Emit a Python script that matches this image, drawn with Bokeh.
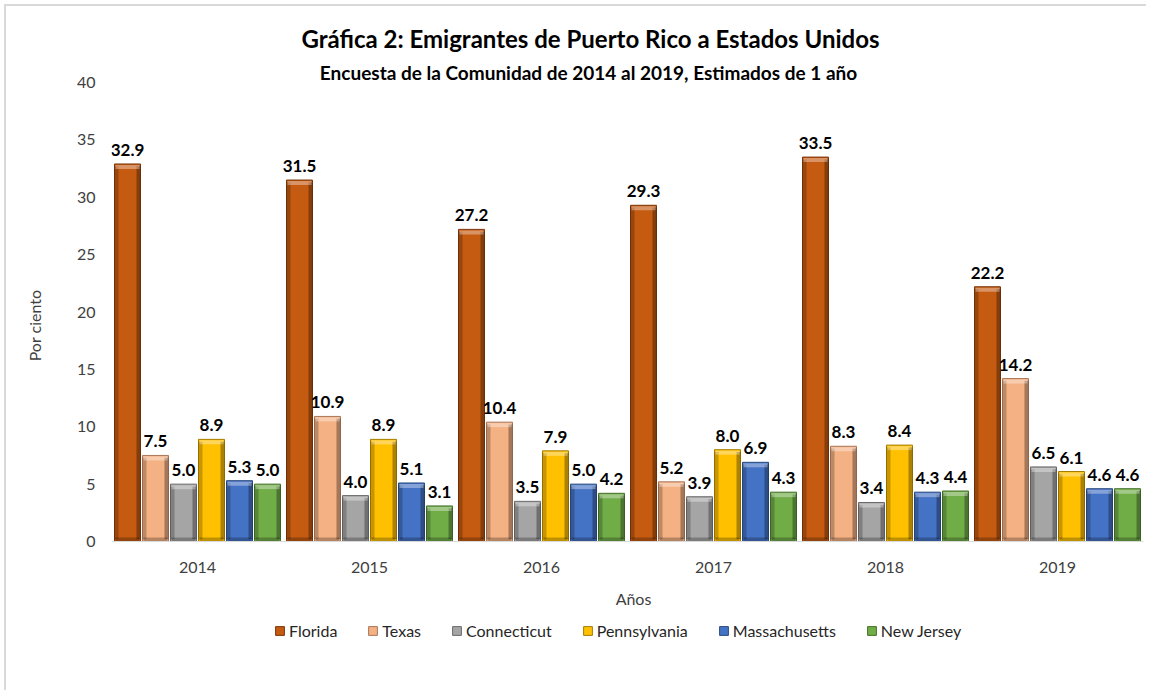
from bokeh.plotting import figure
from bokeh.models import (ColumnDataSource, Range1d, FixedTicker, LabelSet, Label,
                          Legend, LegendItem)
from bokeh.core.properties import value
from bokeh.embed import file_html
from bokeh.resources import INLINE

years = ["2014", "2015", "2016", "2017", "2018", "2019"]
states = ["Florida", "Texas", "Connecticut", "Pennsylvania", "Massachusetts", "New Jersey"]
florida = [32.9, 31.5, 27.2, 29.3, 33.5, 22.2]
texas = [7.5, 10.9, 10.4, 5.2, 8.3, 14.2]
connecticut = [5.0, 4.0, 3.5, 3.9, 3.4, 6.5]
pennsylvania = [8.9, 8.9, 7.9, 8.0, 8.4, 6.1]
massachusetts = [5.3, 5.1, 5.0, 6.9, 4.3, 4.6]
new_jersey = [5.0, 3.1, 4.2, 4.3, 4.4, 4.6]
series = [florida, texas, connecticut, pennsylvania, massachusetts, new_jersey]
colors = ["#C55A11", "#F4B183", "#A5A5A5", "#FFC000", "#4472C4", "#70AD47"]
edges = ["#7A3508", "#A9765A", "#6B6B6B", "#A67C00", "#2A4A80", "#45702B"]

FONT = "Lato"
W, H = 1146, 690
PPU = 459.0 / 40.0          # pixels per y unit (0..40 spans 459 px)
y0_px = 541.0               # pixel row of y = 0
frame_bottom = 650.0
p = figure(width=W, height=H, output_backend="svg", toolbar_location=None,
           x_range=Range1d(0, 6),
           y_range=Range1d(-(frame_bottom - y0_px) / PPU, y0_px / PPU),
           min_border_left=111, min_border_right=3, min_border_top=0,
           min_border_bottom=int(H - frame_bottom))
p.border_fill_alpha = 0
p.background_fill_alpha = 0
p.styles = {
    "background-color": "#FFFFFF",
    "background-image": "linear-gradient(#D9D9D9, #D9D9D9), linear-gradient(#D9D9D9, #D9D9D9)",
    "background-size": "2px 100%, 100% 2px",
    "background-position": "4px 4px, 4px 4px",
    "background-repeat": "no-repeat",
}
p.outline_line_color = None
p.xgrid.grid_line_color = None
p.ygrid.grid_line_color = None

step = 0.1628
bw = 0.151
px_x = 1.0 / 172.0
px_y = 1.0 / PPU

items = []
for j, (vals, name) in enumerate(zip(series, states)):
    xs = [i + 0.5 + (j - 2.5) * step for i in range(len(years))]
    left = [x - bw / 2 for x in xs]
    right = [x + bw / 2 for x in xs]
    src = ColumnDataSource(dict(x=xs, left=left, right=right, top=vals,
                                bottom=[0] * len(vals),
                                lbl=["%.1f" % v for v in vals]))
    r = p.quad(left="left", right="right", top="top", bottom="bottom", source=src,
               fill_color=colors[j], line_color=edges[j], line_width=1)
    # bevel: dark sides, light top, dark bottom
    p.quad(left=left, right=[l + 4 * px_x for l in left], top=[v - 0.2 for v in vals],
           bottom=[0.2] * len(vals), fill_color="black", fill_alpha=0.22, line_color=None)
    p.quad(left=[rr - 4 * px_x for rr in right], right=right, top=[v - 0.2 for v in vals],
           bottom=[0.2] * len(vals), fill_color="black", fill_alpha=0.32, line_color=None)
    p.quad(left=[l + 1 * px_x for l in left], right=[rr - 1 * px_x for rr in right],
           top=[v - 1 * px_y for v in vals], bottom=[v - 5 * px_y for v in vals],
           fill_color="white", fill_alpha=0.35, line_color=None)
    p.quad(left=[l + 1 * px_x for l in left], right=[rr - 1 * px_x for rr in right],
           top=[4 * px_y] * len(vals), bottom=[0] * len(vals),
           fill_color="black", fill_alpha=0.25, line_color=None)
    labels = LabelSet(x="x", y="top", text="lbl", source=src, text_align="center",
                      text_baseline="bottom", y_offset=8, text_font=value(FONT),
                      text_font_style="bold", text_font_size="17px", text_color="#000000")
    p.add_layout(labels)
    items.append(LegendItem(label=name, renderers=[r]))

# y axis
p.yaxis.ticker = FixedTicker(ticks=list(range(0, 45, 5)))
p.yaxis.axis_line_color = None
p.yaxis.major_tick_line_color = None
p.yaxis.minor_tick_line_color = None
p.yaxis.major_tick_out = 0
p.yaxis.major_label_text_font = FONT
p.yaxis.major_label_text_font_size = "16px"
p.yaxis.major_label_text_color = "#404040"
p.yaxis.major_label_standoff = 16
p.yaxis.axis_label = "Por ciento"
p.yaxis.axis_label_text_font = FONT
p.yaxis.axis_label_text_font_size = "16px"
p.yaxis.axis_label_text_font_style = "normal"
p.yaxis.axis_label_text_color = "#404040"
p.yaxis.axis_label_standoff = 30

# x axis, drawn at y = 0
p.xaxis.fixed_location = 0
p.xaxis.ticker = FixedTicker(ticks=[i + 0.5 for i in range(len(years))])
p.xaxis.major_label_overrides = {i + 0.5: y for i, y in enumerate(years)}
p.xaxis.axis_line_color = "#D9D9D9"
p.xaxis.axis_line_width = 1
p.xaxis.major_tick_line_color = None
p.xaxis.minor_tick_line_color = None
p.xaxis.major_tick_out = 0
p.xaxis.major_tick_in = 0
p.xaxis.major_label_text_font = FONT
p.xaxis.major_label_text_font_size = "16px"
p.xaxis.major_label_text_color = "#404040"
p.xaxis.major_label_standoff = 20

p.add_layout(Label(x=(633 - 111) / 172, y=-57 / PPU, text="Años", text_align="center",
                   text_baseline="middle", text_font=FONT, text_font_size="16px",
                   text_color="#404040"))

# titles
p.add_layout(Label(x=(590 - 111) / 172, y=(y0_px - 38) / PPU,
                   text="Gráfica 2: Emigrantes de Puerto Rico a Estados Unidos",
                   text_align="center", text_baseline="middle", text_font=FONT,
                   text_font_style="bold", text_font_size="24px", text_color="#000000"))
p.add_layout(Label(x=(588 - 111) / 172, y=(y0_px - 72) / PPU,
                   text="Encuesta de la Comunidad de 2014 al 2019, Estimados de 1 año",
                   text_align="center", text_baseline="middle", text_font=FONT,
                   text_font_style="bold", text_font_size="19px", text_color="#000000"))

legend = Legend(items=items, orientation="horizontal", location=(163, 10),
                label_text_font=FONT, label_text_font_size="16px", label_text_color="#262626",
                glyph_width=11, glyph_height=11, spacing=30, label_standoff=4,
                border_line_color=None, background_fill_alpha=0, margin=0, padding=4)
p.add_layout(legend, "center")

open("out.html", "w").write(file_html(p, INLINE))
